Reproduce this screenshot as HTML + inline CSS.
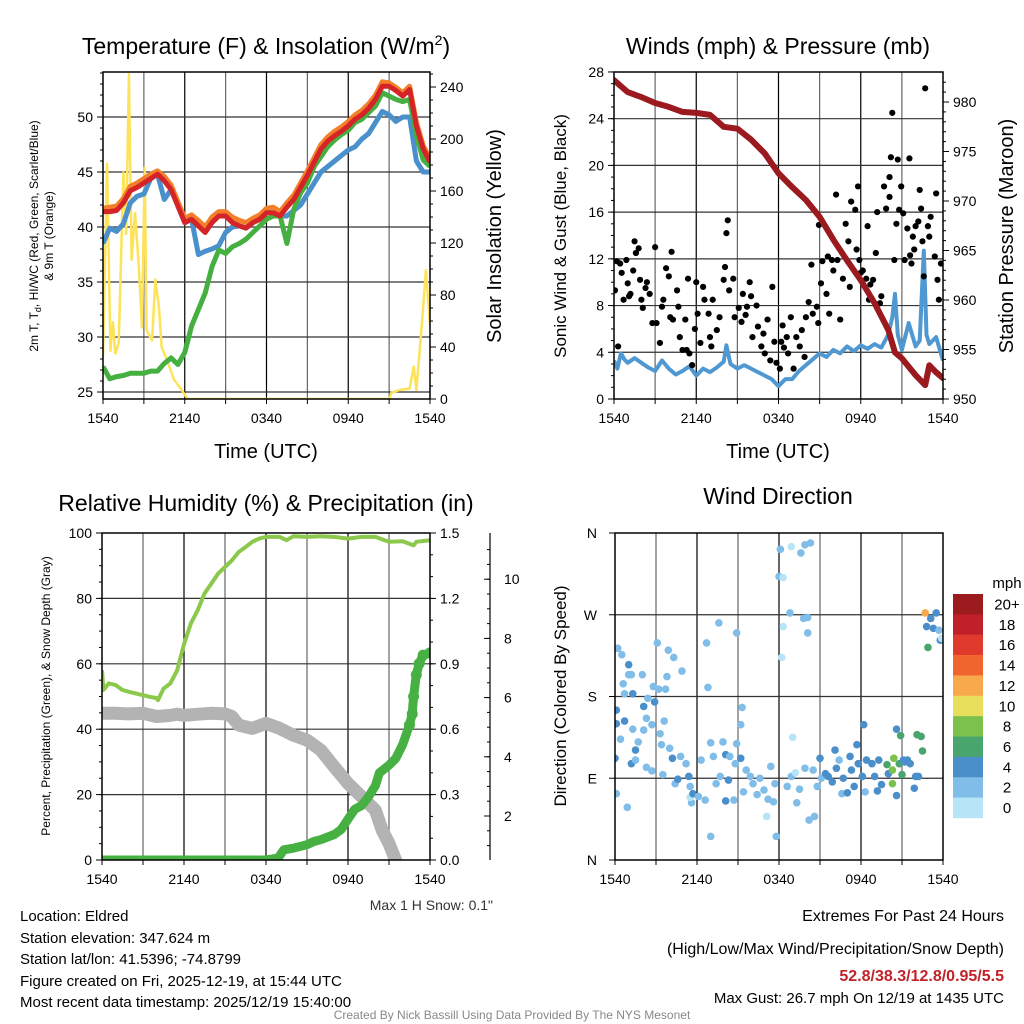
<!DOCTYPE html>
<html><head><meta charset="utf-8"><style>
html,body{margin:0;padding:0;background:#fff;}
svg{display:block;font-family:"Liberation Sans",Arial,sans-serif;}
</style></head><body>
<svg id="chart" width="1024" height="1024" viewBox="0 0 1024 1024" xmlns="http://www.w3.org/2000/svg">
<defs>
<clipPath id="c1"><rect x="103" y="72" width="327" height="327"/></clipPath>
<clipPath id="c2"><rect x="614" y="72" width="329" height="327"/></clipPath>
<clipPath id="c3"><rect x="102" y="533" width="328" height="327"/></clipPath>
<clipPath id="c4"><rect x="615" y="533" width="328" height="327"/></clipPath>
</defs>
<g id="grids"></g>
<g id="marks"></g>
<g id="axes"></g>

<text x="266" y="54" font-size="23" text-anchor="middle">Temperature (F) &amp; Insolation (W/m<tspan font-size="14" dy="-9">2</tspan><tspan dy="9">)</tspan></text>
<text x="778" y="54" font-size="23" text-anchor="middle">Winds (mph) &amp; Pressure (mb)</text>
<text x="266" y="511" font-size="23" text-anchor="middle">Relative Humidity (%) &amp; Precipitation (in)</text>
<text x="778" y="504" font-size="23" text-anchor="middle">Wind Direction</text>

<text x="266" y="458" font-size="20" text-anchor="middle">Time (UTC)</text>
<text x="778" y="458" font-size="20" text-anchor="middle">Time (UTC)</text>

<text transform="translate(38,236) rotate(-90)" font-size="12" text-anchor="middle"><tspan x="0" y="0">2m T, T<tspan font-size="9" dy="3">d</tspan><tspan dy="-3">, HI/WC (Red, Green, Scarlet/Blue)</tspan></tspan><tspan x="0" y="15">&amp; 9m T (Orange)</tspan></text>
<text transform="translate(501,236) rotate(-90)" font-size="20" text-anchor="middle">Solar Insolation (Yellow)</text>
<text transform="translate(566,236) rotate(-90)" font-size="17" text-anchor="middle">Sonic Wind &amp; Gust (Blue, Black)</text>
<text transform="translate(1013,236) rotate(-90)" font-size="20" text-anchor="middle">Station Pressure (Maroon)</text>
<text transform="translate(50,696) rotate(-90)" font-size="12" text-anchor="middle">Percent, Precipitation (Green), &amp; Snow Depth (Gray)</text>
<text transform="translate(566,696) rotate(-90)" font-size="17" text-anchor="middle">Direction (Colored By Speed)</text>

<text x="493" y="910" font-size="14" fill="#333" text-anchor="end">Max 1 H Snow: 0.1"</text>

<g font-size="15">
<text x="20" y="921">Location: Eldred</text>
<text x="20" y="943">Station elevation: 347.624 m</text>
<text x="20" y="964">Station lat/lon: 41.5396; -74.8799</text>
<text x="20" y="986">Figure created on Fri, 2025-12-19, at 15:44 UTC</text>
<text x="20" y="1007">Most recent data timestamp: 2025/12/19 15:40:00</text>
</g>
<g font-size="15" text-anchor="end">
<text x="1004" y="921" font-size="16">Extremes For Past 24 Hours</text>
<text x="1004" y="954" font-size="16">(High/Low/Max Wind/Precipitation/Snow Depth)</text>
<text x="1004" y="981" font-size="16" font-weight="bold" fill="#c0232a">52.8/38.3/12.8/0.95/5.5</text>
<text x="1004" y="1003">Max Gust: 26.7 mph On 12/19 at 1435 UTC</text>
</g>
<text x="512" y="1019" font-size="12" fill="#888" text-anchor="middle">Created By Nick Bassill Using Data Provided By The NYS Mesonet</text>

<g id="cbar"></g>
<text x="1007" y="588" font-size="15" text-anchor="middle">mph</text>
</svg>
<script>
// ---------- DATA ----------
var halfHours = [0,0.5,1,1.5,2,2.5,3,3.5,4,4.5,5,5.5,6,6.5,7,7.5,8,8.5,9,9.5,10,10.5,11,11.5,12,12.5,13,13.5,14,14.5,15,15.5,16,16.5,17,17.5,18,18.5,19,19.5,20,20.5,21,21.5,22,22.5,23,23.5,24];
var temp2m = [41.4,41.4,41.5,42.2,43.3,43.6,44,44.4,44.8,44.2,43.4,41.9,40.4,40.7,40.1,39.5,40.4,41,41,40.4,40.1,39.9,40.4,40.7,41.3,41.3,41,41.8,42.5,43.6,44.7,45.9,47.1,47.8,48.3,48.7,49.2,49.8,50.2,50.8,51.6,52.8,52.8,52.4,51.9,52.5,49.2,47.1,45.9];
var temp9m = [41.7,41.8,41.9,42.6,43.7,44,44.4,44.8,45.1,44.6,43.8,42.3,40.8,41.1,40.6,40,40.9,41.4,41.4,40.9,40.6,40.4,40.8,41.1,41.7,41.8,41.4,42.2,42.9,44,45.1,46.3,47.5,48.2,48.7,49.1,49.6,50.2,50.6,51.2,52,53.2,53.1,52.7,52.2,52.8,49.5,47.4,46.2];
var dewpoint = [27.3,26.2,26.4,26.5,26.7,26.7,26.7,26.9,26.9,27.6,28.1,27.5,28.6,31,32.5,34,36.4,37.9,37.6,38.2,38.5,38.9,39.5,40.1,40.7,41,41,38.5,41.6,43.1,44,45.5,46.4,47.3,47.9,48.4,48.8,49.5,49.8,50.4,51,52.2,51.9,51.6,51.4,51.6,48.3,46.1,45.5];
var heatIndex = [38.5,39.9,39.6,40.3,42.2,42.8,43,44.4,44.8,42.5,43.4,41.9,40.4,40.7,37.5,37.8,38,38.3,39.5,40,40.1,39.9,40.4,40.7,41.3,41.3,41,41,41.5,42,43,44,45,45.5,46,46.5,47,47.3,48,48.5,49.5,50.5,50.2,49.6,50,50,46,45,45];
var insolTime = [0,0.3,0.54,0.73,0.9,1.15,1.5,1.7,1.9,2.1,2.35,2.6,2.86,3.06,3.2,3.6,3.84,4.1,4.3,4.7,5.2,5.7,6.2,21,21.2,21.8,22.5,22.8,23,23.4,23.7,24];
var insolValue = [32,181,37,59,35,43,174,127,250,107,143,107,55,178,53,45,92,71,40,30,15,8,0,0,5,7,8,25,7,57,99,57];

var pressure = [982.2,981.0,980.5,979.9,979.5,979.0,978.9,978.7,977.5,977.3,976.2,974.8,972.8,971.4,970.1,968.4,966.1,964.0,962.0,959.7,957.0,954.7,954.1,952.4,951.4,953.4,952.7,952.1];
var pressureTime = [0,1,2,3,4,5,6,7,8,9,10,11,12,13,14,15,16,17,18,19,20,20.5,21,22,22.7,23,23.5,24];
var sonicTime = [0,0.25,0.5,0.75,1,1.5,2,2.5,3,3.5,4,4.5,5,5.5,6,6.5,7,7.5,8,8.2,8.5,9,9.5,10,10.5,11,11.5,12,12.5,13,13.5,14,14.5,15,15.5,16,16.5,17,17.5,18,18.5,19,19.5,20,20.3,20.5,20.7,21,21.5,22,22.3,22.6,22.8,23,23.5,24];
var sonicSpeed = [3.3,2.6,3.9,3.4,3.1,3.5,3.1,2.7,2.4,3.3,2.6,2.1,2.4,2.8,2.0,2.6,2.3,2.7,3.2,4.6,3.0,2.6,2.9,2.6,2.3,2.0,1.7,1.1,1.7,1.7,2.4,2.9,3.4,3.9,3.6,4.2,3.9,4.5,4.1,4.6,4.3,4.7,4.4,5.5,7.0,9.0,5.5,4.2,6.5,4.5,5.0,12.7,5.5,4.7,5.3,3.3];
var gustTime = [0.07,0.2,0.45,0.3,0.56,0.7,0.9,1.0,1.2,1.4,1.5,1.8,1.6,1.9,2.0,2.1,2.4,2.6,2.8,3.0,3.1,3.35,3.5,3.6,3.8,4.0,4.1,4.2,4.3,4.6,4.7,4.8,5.0,5.2,5.3,5.4,5.5,5.7,6.0,6.1,6.3,6.5,6.6,6.9,7.0,7.1,7.2,7.5,7.7,8.0,8.1,8.2,8.3,8.4,8.7,8.8,9.1,9.3,9.4,9.7,9.9,10.0,10.1,10.4,10.5,10.75,10.9,11.0,11.2,11.4,11.55,11.7,11.85,12.1,12.2,12.3,12.6,12.7,12.9,13.1,13.3,13.55,13.7,14.0,14.2,14.4,14.5,14.8,14.9,14.95,15.1,15.2,15.5,15.6,15.7,15.9,16.2,16.3,16.5,16.7,16.9,17.1,17.2,17.3,17.6,17.7,17.8,17.9,18.0,18.15,18.4,18.5,18.6,18.9,19.1,19.2,19.5,19.7,19.85,20.1,20.1,20.2,20.3,20.45,20.6,20.7,20.8,20.95,21.1,21.2,21.4,21.55,21.7,21.8,21.9,22.0,22.2,22.3,22.4,22.5,22.6,22.7,22.9,23.0,23.1,23.4,23.5,23.6,23.7,23.85,1.1,2.3,5.9,9.6,12.4,13.9,16.0,18.7,19.4,21.6];
var gustSpeed = [9.3,11.8,11.6,4.5,10.8,8.5,11.9,9.9,9.0,11.0,13.5,12.9,12.5,10.2,8.5,7.8,10.0,9.0,6.5,13.0,6.5,4.8,7.9,8.5,11.2,10.5,7.0,12.6,6.8,9.3,7.9,5.3,4.2,6.8,4.2,10.3,3.9,2.9,10.0,7.3,4.8,9.6,8.5,7.3,5.3,4.5,8.5,5.9,7.0,10.2,11.3,14.2,15.3,9.3,10.3,7.0,7.8,6.6,9.0,7.9,10.0,8.8,5.3,8.0,6.2,4.5,5.6,3.9,6.8,3.3,9.6,4.9,3.1,2.6,4.9,6.3,5.3,3.9,7.0,2.6,5.3,4.5,5.9,7.0,8.3,11.5,7.3,7.9,6.5,14.9,9.9,11.8,9.0,12.2,7.3,11.9,17.5,11.9,6.8,10.3,15.0,13.5,9.6,16.9,16.2,12.8,18.2,11.9,10.8,11.0,10.3,14.8,8.5,10.2,12.5,16.0,8.8,18.2,16.3,17.3,19.0,20.7,24.5,11.9,15.0,20.5,16.2,18.2,15.9,11.9,14.6,20.6,11.6,13.9,12.8,14.8,15.2,17.9,16.3,13.5,10.5,26.6,14.8,13.9,15.6,12.2,17.6,10.2,8.5,11.6,8.8,9.5,6.0,7.2,4.4,3.6,11.0,9.8,8.2,12.3];

var rhTime = [0,0.1,0.5,1,1.5,2,2.5,3,3.5,4,4.1,4.5,5,5.5,6,6.5,7,7.5,8,8.5,9,9.5,10,10.5,11,11.5,12,13,13.5,14,15,16,17,18,19,20,21,22,22.8,23,24];
var rhValue = [58,52,54,53.5,52,51.4,50.9,50.4,49.9,49.5,48.9,52.4,54,58,66,72.3,76.4,81.5,84.5,87.6,89.6,91.6,94.2,95.7,97.3,98.3,98.8,98.8,97.8,99,98.8,99,98.8,98.3,98.8,98.8,97.3,97.5,96.2,97.3,97.8];
var precipTime = [0,1,2,3,4,5,6,7,8,9,10,11,12,12.5,12.9,13.3,14,15,15.5,16,17,17.5,18,18.5,19,19.5,20,20.3,21,21.5,22,22.5,22.7,22.8,23,23.2,23.5,24];
var precipValue = [0,0,0,0,0,0,0,0,0,0,0,0,0,0.005,0.01,0.047,0.054,0.07,0.085,0.093,0.117,0.14,0.187,0.233,0.25,0.29,0.34,0.40,0.435,0.466,0.53,0.62,0.67,0.75,0.85,0.9,0.94,0.95];
var snowTime = [0,1,2,3,4,5,5.5,6,7,8,9,9.5,10,11,12,13,14,15,16,17,18,19,20,20.5,21,21.5,21.6];
var snowDepth = [5.47,5.47,5.45,5.47,5.36,5.4,5.44,5.4,5.44,5.47,5.45,5.36,5.07,4.96,5.13,4.96,4.73,4.56,4.23,3.66,3.1,2.65,2.2,1.52,1.07,0.5,0.4];

var dirTime = [0.2,0.5,1.0,1.0,1.2,0.6,0.7,1.3,0.1,0.1,0.7,0.4,0.0,0.1,0.9,1.2,1.5,1.5,1.7,1.3,2.0,2.1,2.3,2.1,2.4,2.7,2.8,2.9,3.1,3.2,2.3,2.7,3.3,3.4,3.5,3.6,3.8,3.9,3.7,4.0,4.2,4.3,4.4,4.6,4.8,4.9,5.2,5.4,5.5,5.6,5.5,5.7,6.1,6.3,6.6,6.7,6.8,7.0,7.0,7.2,7.4,7.6,7.7,7.9,8.1,8.1,8.3,8.4,8.7,8.8,8.9,8.9,9.2,9.2,9.3,9.4,9.6,9.9,10.1,10.4,10.6,10.9,11.1,11.2,11.4,11.6,11.7,11.8,12.0,12.3,12.1,12.9,13.6,13.9,14.3,12.3,12.2,12.8,13.8,14.1,14.1,13.0,12.6,12.9,13.2,13.3,13.5,13.9,14.2,14.6,14.5,14.8,15.0,15.1,15.4,15.6,15.9,16.1,16.2,16.4,16.6,16.7,17.0,17.2,17.3,17.5,17.7,17.8,18.1,18.2,18.3,18.4,18.8,19.0,19.2,19.3,19.5,19.9,20.0,20.3,20.4,20.3,20.6,20.6,20.8,20.9,21.0,21.1,21.2,21.4,21.6,21.9,22.0,22.2,22.1,22.4,22.5,22.7,22.8,22.9,23.1,23.3,23.5,23.7,23.8,23.9];
var dirValue = [233,226,215,204,204,194,183,183,165,150,153,133,112,73,58,106,121,110,130,144,204,143,156,169,178,149,191,174,239,188,102,98,139,127,94,153,202,231,188,123,112,223,84,89,114,208,106,92,81,63,69,73,70,110,66,239,190,129,26,114,84,261,92,130,116,65,88,114,66,106,250,128,112,149,168,75,99,92,84,72,90,77,48,67,103,64,84,26,312,311,342,345,338,347,349,257,223,272,266,267,250,135,81,92,96,63,78,101,44,48,99,81,112,90,95,92,86,121,101,110,73,90,74,114,99,81,127,106,92,149,75,110,106,92,76,110,83,105,95,99,112,84,144,71,106,137,94,110,108,110,106,79,92,92,138,136,120,272,257,234,266,255,272,253,242,244];
var dirSpeed = [2,2,4,2,2,2,2,4,4,4,4,2,4,2,2,4,4,2,2,2,2,2,2,4,2,2,2,4,2,2,2,2,2,2,2,2,2,2,2,2,4,2,2,4,2,2,2,4,2,2,0,4,2,2,2,2,2,2,2,2,2,2,2,2,4,4,4,2,2,2,2,2,4,2,2,2,2,2,2,2,2,2,0,2,2,2,2,2,2,0,2,0,2,2,2,0,0,2,2,2,2,0,2,2,0,2,2,2,2,2,2,2,4,2,4,4,4,4,4,2,2,4,4,4,4,4,4,4,4,4,2,4,4,4,4,4,4,6,4,8,8,8,4,4,6,6,6,4,4,4,4,4,4,4,6,6,6,12,4,6,4,4,4,2,4];
var speedLevels = [0,2,4,6,8,10,12,14,16,18,20];
var speedLabels = ["0","2","4","6","8","10","12","14","16","18","20+"];
var speedColors = ["#b8e4f8","#80bde8","#4a8fca","#48a56e","#7bc14c","#e8e05c","#f8a94c","#f0652d","#e03a2c","#c0202a","#9b1b1e"];

var timeTicks = ["1540","2140","0340","0940","1540"];
var tempTicks = [25,30,35,40,45,50];
var insolTicks = [0,40,80,120,160,200,240];
var windTicks = [0,4,8,12,16,20,24,28];
var pressTicks = [950,955,960,965,970,975,980];
var pctTicks = [0,20,40,60,80,100];
var precipTicks = ["0.0","0.3","0.6","0.9","1.2","1.5"];
var snowTicks = [2,4,6,8,10];
var dirTicks = ["N","E","S","W","N"];

// ---------- SCALES ----------
function x1(h){return 103+h*327/24;}
function yT(t){return 392-(t-25)*11;}
function yI(v){return 399-v*1.3;}
function x2(h){return 614+h*329/24;}
function yW(m){return 399-m*11.68;}
function yP(p){return 399-(p-950)*9.9;}
function x3(h){return 102+h*328/24;}
function yRH(r){return 860-r*3.27;}
function yPr(i){return 860-i*218;}
function ySn(s){return 875.2-s*29.6;}
function x4(h){return 615+h*328/24;}
function yD(d){return 860-d*327/360;}
function spdColor(s){var k=0;for(var i=0;i<speedLevels.length;i++){if(s>=speedLevels[i])k=i;}return speedColors[k];}

var NS='http://www.w3.org/2000/svg';
function mk(tag,parent,attrs){var e=document.createElementNS(NS,tag);for(var k in attrs)e.setAttribute(k,attrs[k]);parent.appendChild(e);return e;}
var G=document.getElementById('grids'),M=document.getElementById('marks'),A=document.getElementById('axes');

function path(xs,ys,fx,fy){var d='';for(var i=0;i<xs.length;i++){d+=(i?'L':'M')+fx(xs[i]).toFixed(1)+','+fy(ys[i]).toFixed(1);}return d;}

// ---------- PANEL FRAMES / GRIDS ----------
var panels=[{x:103,y:72,w:327,h:327},{x:614,y:72,w:329,h:327},{x:102,y:533,w:328,h:327},{x:615,y:533,w:328,h:327}];
panels.forEach(function(p,pi){
  for(var i=1;i<8;i++){var gx=p.x+p.w*i/8;
    var gl=mk('line',G,{x1:gx,y1:p.y,x2:gx,y2:p.y+p.h,stroke:(i%2?'#666':'#000'),'stroke-width':1.2});
    
    
  }
  for(var j=0;j<=8;j++){var tx=p.x+p.w*j/8;
    var tk=mk('line',A,{x1:tx,y1:p.y+p.h,x2:tx,y2:p.y+p.h+5,stroke:'#000','stroke-width':1});
    
    
  }
  for(var k=0;k<5;k++){
    var lt=mk('text',A,{x:p.x+p.w*k/4,y:p.y+p.h+24,'font-size':14,'text-anchor':'middle'});
    lt.textContent=timeTicks[k];
    
    
  }
});
function hgrid(xa,xb,y){var l=mk('line',G,{x1:xa,y1:y,x2:xb,y2:y,stroke:'#333','stroke-width':1.2});
  
  }
function ytick(x,y,len,label,anchor,dx){var t=mk('line',A,{x1:x,y1:y,x2:x+len,y2:y,stroke:'#000','stroke-width':1});
  
  
  if(label!==null && label!==undefined){var tt=mk('text',A,{x:x+len+dx,y:y+5,'font-size':14,'text-anchor':anchor});tt.textContent=label;
  
  }}

// Panel 1 axes
tempTicks.forEach(function(t){hgrid(103,430,yT(t));ytick(103,yT(t),-6,String(t),'end',-4);});
for(var t=25;t<=54;t++){ytick(103,yT(t),-3,null);}
insolTicks.forEach(function(v){ytick(430,yI(v),6,String(v),'start',4);});
for(var v=0;v<=250;v+=10){ytick(430,yI(v),3,null);}
// Panel 2 axes
windTicks.forEach(function(m){if(m>0&&m<28)hgrid(614,943,yW(m));ytick(614,yW(m),-6,String(m),'end',-4);});
for(var m=0;m<=28;m+=1){ytick(614,yW(m),-3,null);}
pressTicks.forEach(function(p){ytick(943,yP(p),6,String(p),'start',4);});
for(var p=950;p<=982;p+=1){ytick(943,yP(p),3,null);}
// Panel 3 axes
pctTicks.forEach(function(r){if(r>0&&r<100)hgrid(102,430,yRH(r));ytick(102,yRH(r),-6,String(r),'end',-4);});
for(var r=0;r<=100;r+=5){ytick(102,yRH(r),-3,null);}
precipTicks.forEach(function(s,i){ytick(430,yRH(i*20),6,s,'start',4);});
for(var r2=0;r2<=100.1;r2+=20/3){ytick(430,yRH(r2),3,null);}
var sAx=mk('line',A,{x1:490,y1:533,x2:490,y2:860,stroke:'#000','stroke-width':1.2});


snowTicks.forEach(function(s){ytick(490,ySn(s),-6,null);var st=mk('text',A,{x:504,y:ySn(s)+5,'font-size':14});st.textContent=String(s);
  
  });
for(var s=0.5;s<=11;s+=0.5){if(ySn(s)>=533&&ySn(s)<=860)ytick(490,ySn(s),-3,null);}
// Panel 4 axes
dirTicks.forEach(function(d,i){var y=yD(i*90);if(i>0&&i<4)hgrid(615,943,y);ytick(615,y,-6,null);
  var dt=mk('text',A,{x:597,y:y+5,'font-size':14,'text-anchor':'end'});dt.textContent=d;
  
  });
// frames
panels.forEach(function(p){var fr=mk('rect',A,{x:p.x,y:p.y,width:p.w,height:p.h,fill:'none',stroke:'#000','stroke-width':1.5});
  
  });

// ---------- PANEL 1 SERIES ----------
var g1=mk('g',M,{'clip-path':'url(#c1)'});
var yel=mk('path',g1,{d:path(insolTime,insolValue,x1,yI),fill:'none',stroke:'#fde35a','stroke-width':2.5,'stroke-linejoin':'round'});


var hi=mk('path',g1,{d:path(halfHours,heatIndex,x1,yT),fill:'none',stroke:'#4a90cc','stroke-width':5,'stroke-linejoin':'round'});


var dp=mk('path',g1,{d:path(halfHours,dewpoint,x1,yT),fill:'none',stroke:'#45b040','stroke-width':5,'stroke-linejoin':'round'});


var t9=mk('path',g1,{d:path(halfHours,temp9m,x1,yT),fill:'none',stroke:'#f47f2a','stroke-width':5,'stroke-linejoin':'round'});


var t2=mk('path',g1,{d:path(halfHours,temp2m,x1,yT),fill:'none',stroke:'#d42428','stroke-width':5,'stroke-linejoin':'round'});



// ---------- PANEL 2 SERIES ----------
var g2=mk('g',M,{'clip-path':'url(#c2)'});
var sw=mk('path',g2,{d:path(sonicTime,sonicSpeed,x2,yW),fill:'none',stroke:'#4f98d2','stroke-width':4,'stroke-linejoin':'round'});


for(var i=0;i<gustTime.length;i++){
  var gc=mk('circle',g2,{cx:x2(gustTime[i]),cy:yW(gustSpeed[i]),r:3.1,fill:'#000'});
  
  
}
var pr=mk('path',g2,{d:path(pressureTime,pressure,x2,yP),fill:'none',stroke:'#9b1a1f','stroke-width':6,'stroke-linejoin':'round','stroke-linecap':'round'});



// ---------- PANEL 3 SERIES ----------
var g3=mk('g',M,{'clip-path':'url(#c3)'});
var sn=mk('path',g3,{d:path(snowTime,snowDepth,x3,ySn),fill:'none',stroke:'#b3b3b3','stroke-width':13,'stroke-linejoin':'round','stroke-linecap':'round'});


var pc=mk('path',g3,{d:path(precipTime,precipValue,x3,yPr),fill:'none',stroke:'#47b043','stroke-width':9,'stroke-linejoin':'round','stroke-linecap':'round'});


for(var i=0;i<precipTime.length;i++){if(precipValue[i]>0.6){
  var pd=mk('circle',g3,{cx:x3(precipTime[i]),cy:yPr(precipValue[i]),r:5.5,fill:'#47b043'});
  
  }}
var rh=mk('path',g3,{d:path(rhTime,rhValue,x3,yRH),fill:'none',stroke:'#8cc84b','stroke-width':4,'stroke-linejoin':'round'});



// ---------- PANEL 4 SERIES ----------
var g4=mk('g',M,{'clip-path':'url(#c4)'});
for(var i=0;i<dirTime.length;i++){
  var wd=mk('circle',g4,{cx:x4(dirTime[i]),cy:yD(dirValue[i]),r:3.8,fill:spdColor(dirSpeed[i])});
  
  
}

// ---------- COLORBAR ----------
var CB=document.getElementById('cbar');
for(var i=0;i<speedColors.length;i++){
  var idx=speedColors.length-1-i;var y=594+i*20.36;
  var cr=mk('rect',CB,{x:953,y:y,width:30,height:20.6,fill:speedColors[idx]});
  
  
  var cl=mk('text',CB,{x:1007,y:y+15.5,'font-size':15,'text-anchor':'middle'});cl.textContent=speedLabels[idx];
  
  
}
</script>
</body></html>
